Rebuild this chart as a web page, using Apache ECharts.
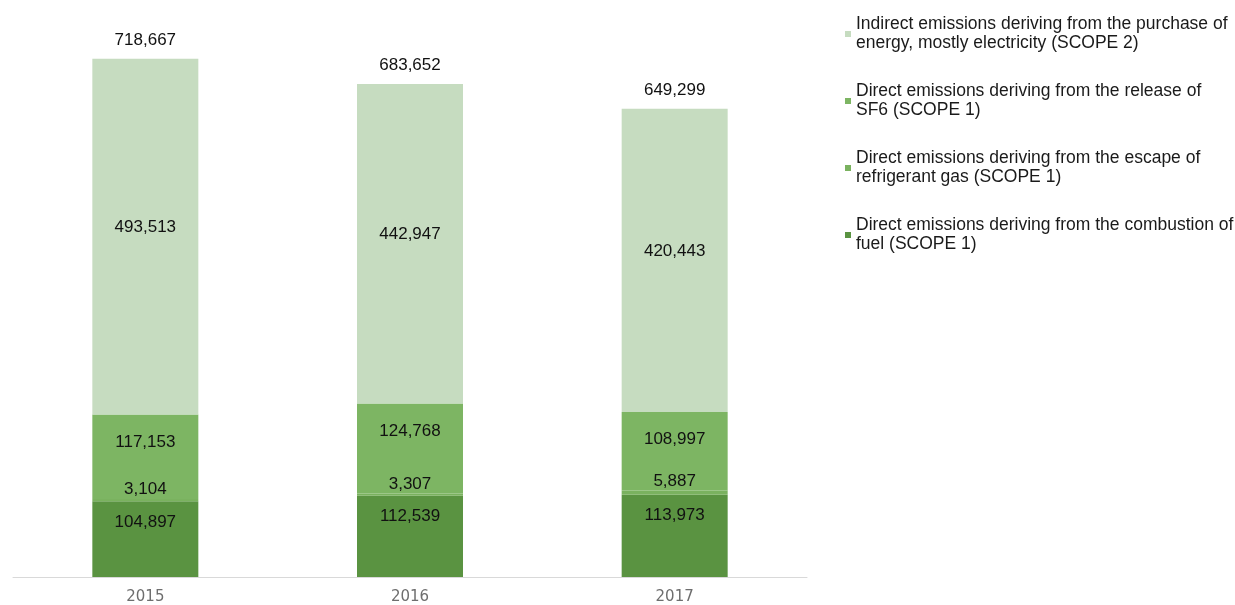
<!DOCTYPE html>
<html>
<head>
<meta charset="utf-8">
<script src="https://cdn.jsdelivr.net/npm/echarts@6/dist/echarts.min.js"></script>
<style>
  html, body { margin: 0; padding: 0; background: #ffffff; }
  #chart { width: 1235px; height: 605px; }
</style>
</head>
<body>
<div id="chart"></div>
<script>
const years = ['2015', '2016', '2017'];
const combustion = [104897, 112539, 113973];
const refrigerant = [3104, 3307, 5887];
const sf6 = [117153, 124768, 108997];
const scope2 = [493513, 442947, 420443];
const totals = [718667, 683652, 649299];

const nameScope2 = 'Indirect emissions deriving from the purchase of\nenergy, mostly electricity (SCOPE 2)';
const nameSF6 = 'Direct emissions deriving from the release of\nSF6 (SCOPE 1)';
const nameRefr = 'Direct emissions deriving from the escape of\nrefrigerant gas (SCOPE 1)';
const nameComb = 'Direct emissions deriving from the combustion of\nfuel (SCOPE 1)';

const fmt = v => v.toLocaleString('en-US');
const labelBase = { show: true, color: '#111111', fontSize: 17, fontFamily: 'Liberation Sans, Arial, sans-serif',
  formatter: p => fmt(p.value) };

const chart = echarts.init(document.getElementById('chart'), null, { renderer: 'canvas' });
chart.setOption({
  animation: false,
  backgroundColor: '#ffffff',
  grid: { left: 13, width: 794, top: 0, bottom: 28 },
  legend: {
    orient: 'vertical',
    left: 840,
    top: 10,
    itemWidth: 6,
    itemHeight: 6,
    itemGap: 29,
    icon: 'rect',
    data: [nameScope2, nameSF6, nameRefr, nameComb],
    textStyle: { color: '#1a1a1a', fontSize: 17.5, lineHeight: 19, fontFamily: 'Liberation Sans, Arial, sans-serif' }
  },
  xAxis: {
    type: 'category',
    data: years,
    axisLine: { show: true, lineStyle: { color: '#d9d9d9', width: 1 } },
    axisTick: { show: false },
    axisLabel: { color: '#6e6e6e', fontSize: 15, margin: 13, fontFamily: 'DejaVu Sans, sans-serif' }
  },
  yAxis: {
    type: 'value', min: 0, max: 800000, show: false,
    splitLine: { show: false }
  },
  series: [
    {
      name: nameComb, type: 'bar', stack: 'e', data: combustion, barWidth: 106,
      itemStyle: { color: '#5a9341' },
      label: Object.assign({}, labelBase, { position: 'insideTop', distance: 12 })
    },
    {
      name: nameRefr, type: 'bar', stack: 'e', data: refrigerant,
      itemStyle: { color: '#7ab25f' },
      label: Object.assign({}, labelBase, { position: 'top', distance: 1 })
    },
    {
      name: nameSF6, type: 'bar', stack: 'e', data: sf6,
      itemStyle: { color: '#7db563' },
      label: Object.assign({}, labelBase, { position: 'insideTop', distance: 19 })
    },
    {
      name: nameScope2, type: 'bar', stack: 'e', data: scope2,
      itemStyle: { color: '#c6dcc0' },
      label: Object.assign({}, labelBase, { position: 'inside', offset: [0, -9] })
    },
    {
      name: 'Total', type: 'scatter', data: totals, symbolSize: 0,
      itemStyle: { color: '#ffffff', opacity: 1 },
      label: Object.assign({}, labelBase, { position: 'top', distance: 10, opacity: 1 }),
      silent: true
    }
  ]
});
</script>
</body>
</html>
